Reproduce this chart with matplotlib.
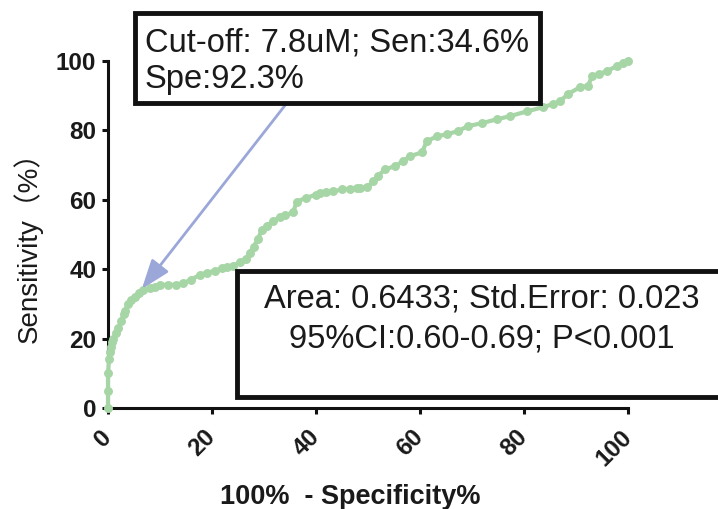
import matplotlib
matplotlib.use("Agg")
import matplotlib.pyplot as plt
from matplotlib.patches import Rectangle

# ---- data ----
fpr = [0, 0, 0, 0.2, 0.3, 0.5, 0.8, 1.0, 1.5, 2.0, 2.5, 3.0, 3.3, 3.8, 4.5, 5.2, 6.0, 6.8,
       8, 9, 10, 11.5, 13, 14.5, 16, 17.7, 19, 20.5, 22, 22.8, 24, 25.4, 26.5, 27.3, 28,
       28.8, 29.6, 30.5, 31.7, 33, 34, 35.6, 36.3, 38, 40, 40.8, 42, 43.3, 45, 46.5, 47.9,
       48.5, 49.8, 51, 52, 53.3, 55.2, 56.7, 58, 60.4, 61.3, 63.3, 65.2, 67.3, 69.2, 71.9,
       74.8, 77.3, 80.6, 83.7, 85.6, 86.9, 88.5, 90.8, 92.3, 93.1, 94.5, 96, 97.9, 99, 100]
tpr = [0, 5, 10, 14, 16, 17.6, 19, 20, 21.5, 23, 25, 27, 28, 30, 31, 32, 33, 34,
       34.6, 35, 35.5, 35.5, 35.5, 36, 37, 38.4, 39, 39.5, 40.3, 40.5, 41, 42, 43, 44.8, 46.5,
       48.6, 51.4, 52.5, 53.8, 55, 55.5, 56.4, 59.5, 60.5, 61.5, 62, 62.3, 62.4, 63, 63.2, 63.3,
       63.4, 63.6, 65.3, 67, 68.8, 69.7, 71.1, 72.5, 73.7, 76.9, 78.3, 78.9, 79.8, 81.2, 82.1,
       83.2, 84.1, 85.5, 86.7, 87.6, 88.4, 90.5, 92.5, 92.8, 95.7, 96.3, 97.1, 98.6, 99.3, 100]
xticks = [0, 20, 40, 60, 80, 100]
yticks = [0, 20, 40, 60, 80, 100]
cutoff_point = (6.5, 34.3)
cutoff_lines = ["Cut-off: 7.8uM; Sen:34.6%", "Spe:92.3%"]
stats_lines = ["Area: 0.6433; Std.Error: 0.023", "95%CI:0.60-0.69; P<0.001"]

plt.rcParams['font.family'] = ['Liberation Sans', 'DejaVu Sans']

W, H = 718, 509
fig = plt.figure(figsize=(W / 100, H / 100), dpi=100)
ax = fig.add_axes([108 / W, 101 / H, 520 / W, 347 / H])

green = '#a6d5a6'
ax.plot(fpr, tpr, color=green, lw=3.0, marker='o', ms=5.4, mec=green, mfc=green,
        clip_on=False, zorder=3)

ax.set_xlim(0, 100)
ax.set_ylim(0, 100)
ax.set_xticks(xticks)
ax.set_yticks(yticks)
for s in ['top', 'right']:
    ax.spines[s].set_visible(False)
for s in ['left', 'bottom']:
    ax.spines[s].set_linewidth(2.2)
    ax.spines[s].set_color('#111111')
ax.tick_params(direction='out', length=4.5, width=2.2, color='#111111')
ax.tick_params(axis='y', pad=4)
ax.tick_params(axis='x', pad=14)
for lab in ax.get_yticklabels():
    lab.set_fontsize(17.5)
    lab.set_fontweight('bold')
    lab.set_color('#1a1a1a')
for lab in ax.get_xticklabels():
    lab.set_fontsize(17.5)
    lab.set_fontweight('bold')
    lab.set_color('#1a1a1a')
    lab.set_rotation(45)
    lab.set_ha('right')
    lab.set_va('center')
    lab.set_rotation_mode('anchor')

fig.text(350 / W, 1 - 497 / H, "100%  - Specificity%", fontsize=19.5, fontweight='bold',
         ha='center', va='center', color='#1a1a1a')
fig.text(28 / W, 1 - 240 / H, "Sensitivity（%）", fontsize=20, rotation=90,
         ha='center', va='center', color='#1a1a1a',
         family=['Liberation Sans', 'Noto Sans CJK SC', 'DejaVu Sans'])

# arrow
ax.annotate("", xy=cutoff_point, xytext=(34.4, 87.9),
            arrowprops=dict(arrowstyle='-|>,head_length=1.8,head_width=0.65',
                            mutation_scale=10, lw=2, color='#9aa7d8',
                            shrinkA=0, shrinkB=0),
            annotation_clip=False, zorder=4)

# top box
fig.add_artist(Rectangle((135 / W, 1 - 103 / H), 405 / W, 90 / H, transform=fig.transFigure,
                         fill=True, fc='white', ec='#111111', lw=3.5, zorder=5))
fig.text(145 / W, 1 - 52 / H, cutoff_lines[0], fontsize=23.5, ha='left', va='baseline',
         color='#1a1a1a', zorder=6)
fig.text(145 / W, 1 - 88 / H, cutoff_lines[1], fontsize=23.5, ha='left', va='baseline',
         color='#1a1a1a', zorder=6)

# bottom box
fig.add_artist(Rectangle((237 / W, 1 - 397 / H), 500 / W, 126 / H, transform=fig.transFigure,
                         fill=True, fc='white', ec='#111111', lw=3.5, zorder=5))
fig.text(482 / W, 1 - 308 / H, stats_lines[0], fontsize=23.5, ha='center', va='baseline',
         color='#1a1a1a', zorder=6)
fig.text(482 / W, 1 - 347 / H, stats_lines[1], fontsize=23.5, ha='center', va='baseline',
         color='#1a1a1a', zorder=6)

fig.savefig('out.png', dpi=100)
